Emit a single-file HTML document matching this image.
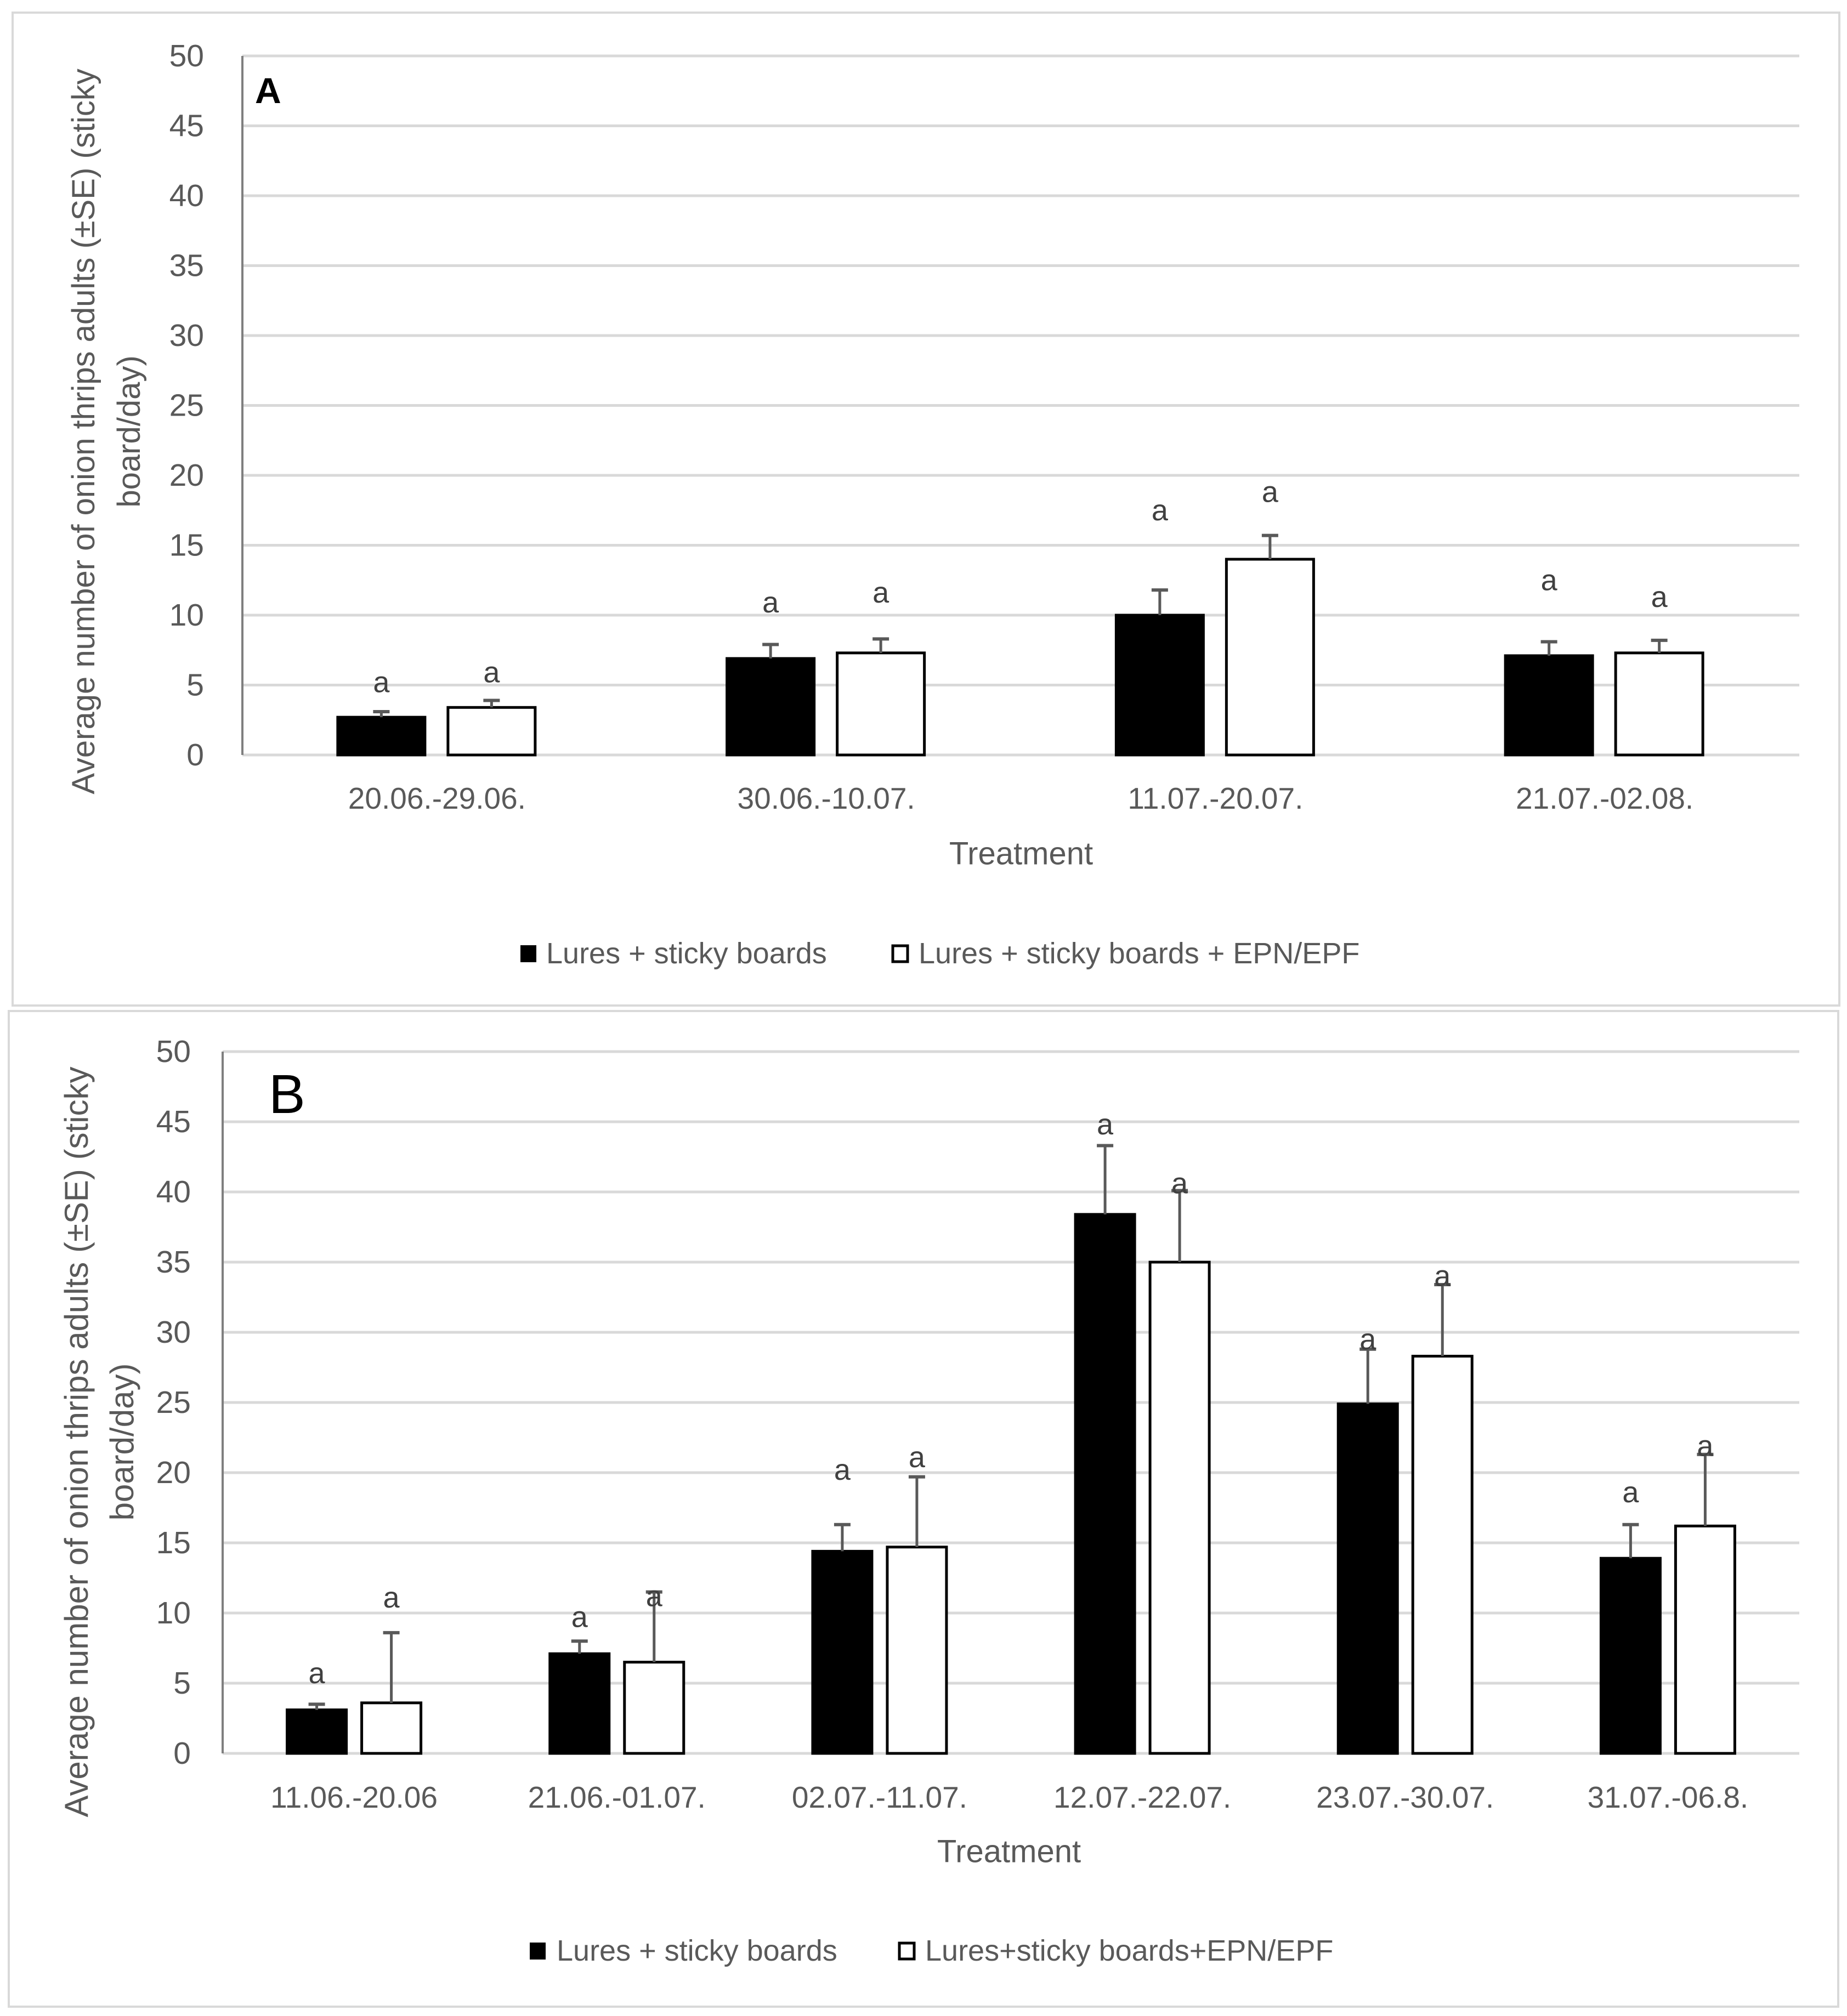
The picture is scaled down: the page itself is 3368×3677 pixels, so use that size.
<!DOCTYPE html>
<html><head><meta charset="utf-8"><style>
html,body{margin:0;padding:0;background:#fff;}
svg{display:block;font-family:"Liberation Sans",sans-serif;}
</style></head><body>
<svg id="svg" width="3368" height="3677" viewBox="0 0 3368 3677" xmlns="http://www.w3.org/2000/svg"></svg>
<script>
// ---- Chart A data ----
const catsA = ["20.06.-29.06.", "30.06.-10.07.", "11.07.-20.07.", "21.07.-02.08."];
const blackA = [2.7, 6.9, 10.0, 7.1];
const whiteA = [3.4, 7.3, 14.0, 7.3];
const blackErrA = [3.1, 7.9, 11.8, 8.1];
const whiteErrA = [3.9, 8.3, 15.7, 8.2];
const blackLblA = [5.2, 10.9, 17.5, 12.5];
const whiteLblA = [5.9, 11.6, 18.8, 11.3];
// ---- Chart B data ----
const catsB = ["11.06.-20.06", "21.06.-01.07.", "02.07.-11.07.", "12.07.-22.07.", "23.07.-30.07.", "31.07.-06.8."];
const blackB = [3.1, 7.1, 14.4, 38.4, 24.9, 13.9];
const whiteB = [3.6, 6.5, 14.7, 35.0, 28.3, 16.2];
const blackErrB = [3.5, 8.0, 16.3, 43.3, 28.8, 16.3];
const whiteErrB = [8.6, 11.5, 19.7, 40.1, 33.4, 21.3];
const blackLblB = [5.7, 9.7, 20.2, 44.8, 29.5, 18.6];
const whiteLblB = [11.1, 11.2, 21.1, 40.6, 34.0, 21.9];
const ticks = [0, 5, 10, 15, 20, 25, 30, 35, 40, 45, 50];

const NS = "http://www.w3.org/2000/svg";
const svg = document.getElementById("svg");
function mk(tag, attrs, parent, text) {
  const e = document.createElementNS(NS, tag);
  for (const k in attrs) e.setAttribute(k, attrs[k]);
  if (text !== undefined) e.textContent = text;
  (parent || svg).appendChild(e);
  return e;
}

function chart(cfg) {
  const g = mk("g", {});
  
  
  const y = v => cfg.y0 - (cfg.y0 - cfg.y50) * v / 50;
  const band = (cfg.x1 - cfg.x0) / cfg.cats.length;
  const xc = i => cfg.x0 + band * (i + 0.5);
  const frame = mk("rect", {x: cfg.bx, y: cfg.by, width: cfg.bw, height: cfg.bh, fill: "none", stroke: "#d9d9d9", "stroke-width": 4}, g);
  
  
  ticks.forEach(t => {
    if (t > 0) {
      const gl = mk("line", {x1: cfg.x0, x2: cfg.x1, y1: y(t), y2: y(t), stroke: "#d9d9d9", "stroke-width": 5}, g);
      
      
    }
    const tl = mk("text", {x: cfg.tickX, y: y(t), "text-anchor": "end", "dominant-baseline": "central", "font-size": 57, fill: "#595959"}, g, String(t));
    
    
  });
  const base = mk("line", {x1: cfg.x0, x2: cfg.x1, y1: cfg.y0, y2: cfg.y0, stroke: "#d9d9d9", "stroke-width": 5}, g);
  
  
  const ax = mk("line", {x1: cfg.x0, x2: cfg.x0, y1: cfg.y50, y2: cfg.y0, stroke: "#7f7f7f", "stroke-width": 4}, g);
  
  

  cfg.cats.forEach((c, i) => {
    const cx = xc(i);
    [[cfg.black, cfg.blackErr, cfg.blackLbl, cfg.bOff, "#000", 'bar-lures'], [cfg.white, cfg.whiteErr, cfg.whiteLbl, cfg.wOff, "#fff", 'bar-lures-epn']].forEach(s => {
      const v = s[0][i], left = cx + s[3], w = cfg.barW;
      const r = mk("rect", {x: left, y: y(v), width: w, height: cfg.y0 - y(v), fill: s[4], stroke: "#000", "stroke-width": 5}, g);
      
      
      const mx = left + w / 2;
      const el = mk("line", {x1: mx, x2: mx, y1: y(v), y2: y(s[1][i]), stroke: "#595959", "stroke-width": 5}, g);
      
      
      const cap = mk("line", {x1: mx - 15, x2: mx + 15, y1: y(s[1][i]), y2: y(s[1][i]), stroke: "#595959", "stroke-width": 6}, g);
      
      
      const lt = mk("text", {x: mx, y: y(s[2][i]), "text-anchor": "middle", "dominant-baseline": "central", "font-size": 54, fill: "#404040"}, g, "a");
      
      
    });
    const cl = mk("text", {x: cx, y: cfg.catY, "text-anchor": "middle", "dominant-baseline": "central", "font-size": 55, fill: "#595959"}, g, c);
    
    
  });
  const xt = mk("text", {x: cfg.treatX, y: cfg.treatY, "text-anchor": "middle", "dominant-baseline": "central", "font-size": 58, fill: "#595959"}, g, "Treatment");
  
  
  const yt = mk("text", {transform: `translate(${cfg.ytX},${cfg.ytY}) rotate(-90)`, "text-anchor": "middle", "font-size": cfg.ytSize, fill: "#595959"}, g);
  
  
  mk("tspan", {x: 0, y: 0}, yt, cfg.yt1);
  mk("tspan", {x: 0, y: 83}, yt, "board/day)");
  const pl = mk("text", {x: cfg.plX, y: cfg.plY, "font-size": cfg.plSize, "font-weight": cfg.plWeight, fill: "#000"}, g, cfg.panel);
  
  
  // legend
  const lg = mk("g", {}, g);
  
  
  const s1 = mk("rect", {x: cfg.lg[0], y: cfg.lgY - 15, width: 29, height: 31, fill: "#000"}, lg);
  
  
  const t1 = mk("text", {x: cfg.lg[1], y: cfg.lgY, "dominant-baseline": "central", "font-size": 54, fill: "#595959"}, lg, "Lures + sticky boards");
  
  
  const s2 = mk("rect", {x: cfg.lg[2], y: cfg.lgY - 14, width: 27, height: 29, fill: "#fff", stroke: "#000", "stroke-width": 5}, lg);
  
  
  const t2 = mk("text", {x: cfg.lg[3], y: cfg.lgY, "dominant-baseline": "central", "font-size": 54, fill: "#595959"}, lg, cfg.lgText2);
  
  
}

chart({name: "chart-a", cats: catsA, black: blackA, white: whiteA, blackErr: blackErrA, whiteErr: whiteErrA,
  blackLbl: blackLblA, whiteLbl: whiteLblA, x0: 442, x1: 3281, y0: 1377, y50: 102,
  bOff: -181, wOff: 20, barW: 159, bx: 23, by: 23, bw: 3331, bh: 1811, tickX: 372, catY: 1456,
  treatX: 1862, treatY: 1557, ytX: 172, ytY: 787, ytSize: 58, yt1: "Average number of  onion thrips adults (±SE) (sticky",
  panel: "A", plX: 465, plY: 188, plSize: 66, plWeight: "bold", lg: [949, 996, 1628, 1675], lgY: 1739,
  lgText2: "Lures + sticky boards + EPN/EPF"});
chart({name: "chart-b", cats: catsB, black: blackB, white: whiteB, blackErr: blackErrB, whiteErr: whiteErrB,
  blackLbl: blackLblB, whiteLbl: whiteLblB, x0: 406, x1: 3281, y0: 3198, y50: 1918,
  bOff: -122, wOff: 14, barW: 108, bx: 16, by: 1844, bw: 3336, bh: 1816, tickX: 348, catY: 3278,
  treatX: 1840, treatY: 3377, ytX: 160, ytY: 2630, ytSize: 60, yt1: "Average number of onion thrips adults (±SE) (sticky",
  panel: "B", plX: 490, plY: 2030, plSize: 100, plWeight: "normal", lg: [966, 1015, 1640, 1687], lgY: 3558,
  lgText2: "Lures+sticky boards+EPN/EPF"});
</script>
</body></html>
